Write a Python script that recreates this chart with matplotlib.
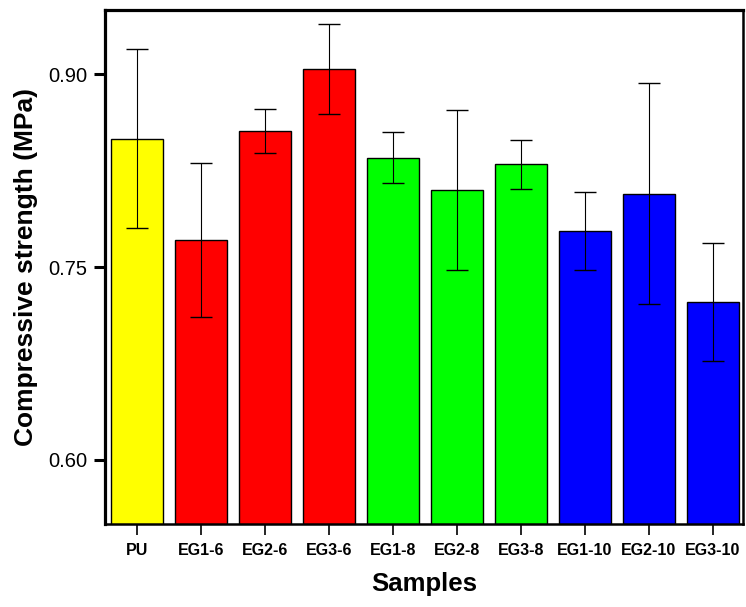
import matplotlib
matplotlib.use('Agg')
import matplotlib.pyplot as plt
import numpy as np

# 样品名称和数据
samples = ['PU', 'EG1-6', 'EG2-6', 'EG3-6', 'EG1-8', 'EG2-8', 'EG3-8',
           'EG1-10', 'EG2-10', 'EG3-10']
strength = [0.850, 0.771, 0.856, 0.904, 0.835, 0.810, 0.830, 0.778, 0.807, 0.723]
errors = [0.070, 0.060, 0.017, 0.035, 0.020, 0.062, 0.019, 0.030, 0.086, 0.046]
colors = ['#FFFF00', '#FF0000', '#FF0000', '#FF0000', '#00FF00', '#00FF00',
          '#00FF00', '#0000FF', '#0000FF', '#0000FF']
yticks = [0.60, 0.75, 0.90]

plt.rcParams['font.family'] = ['Liberation Sans', 'DejaVu Sans']

fig = plt.figure(figsize=(7.46, 6.07), dpi=100)
ax = fig.add_axes([0.1408, 0.1367, 0.8552, 0.8468])

x = np.arange(len(samples))
ax.bar(x, strength, width=0.8, color=colors, edgecolor='black', linewidth=1.0,
       zorder=2)
ax.errorbar(x, strength, yerr=errors, fmt='none', ecolor='black',
            elinewidth=0.8, capsize=8, capthick=1.0, zorder=3)

ax.set_xlim(-0.5, 9.47)
ax.set_ylim(0.55, 0.95)
ax.set_yticks(yticks)
ax.set_yticklabels(['%.2f' % v for v in yticks], fontsize=14.5)
ax.set_xticks(x)
ax.set_xticklabels(samples, fontsize=11.5, fontweight='bold')

ax.tick_params(axis='y', direction='out', length=8, width=2.2, pad=5)
ax.tick_params(axis='x', direction='out', length=8, width=1.2, pad=6)

for side in ['left', 'top']:
    ax.spines[side].set_linewidth(2.3)
for side in ['right', 'bottom']:
    ax.spines[side].set_linewidth(1.8)

ax.set_ylabel('Compressive strength (MPa)', fontsize=19, fontweight='bold',
              labelpad=7)
ax.set_xlabel('Samples', fontsize=18.5, fontweight='bold', labelpad=10)

fig.savefig('out.png', dpi=100)
